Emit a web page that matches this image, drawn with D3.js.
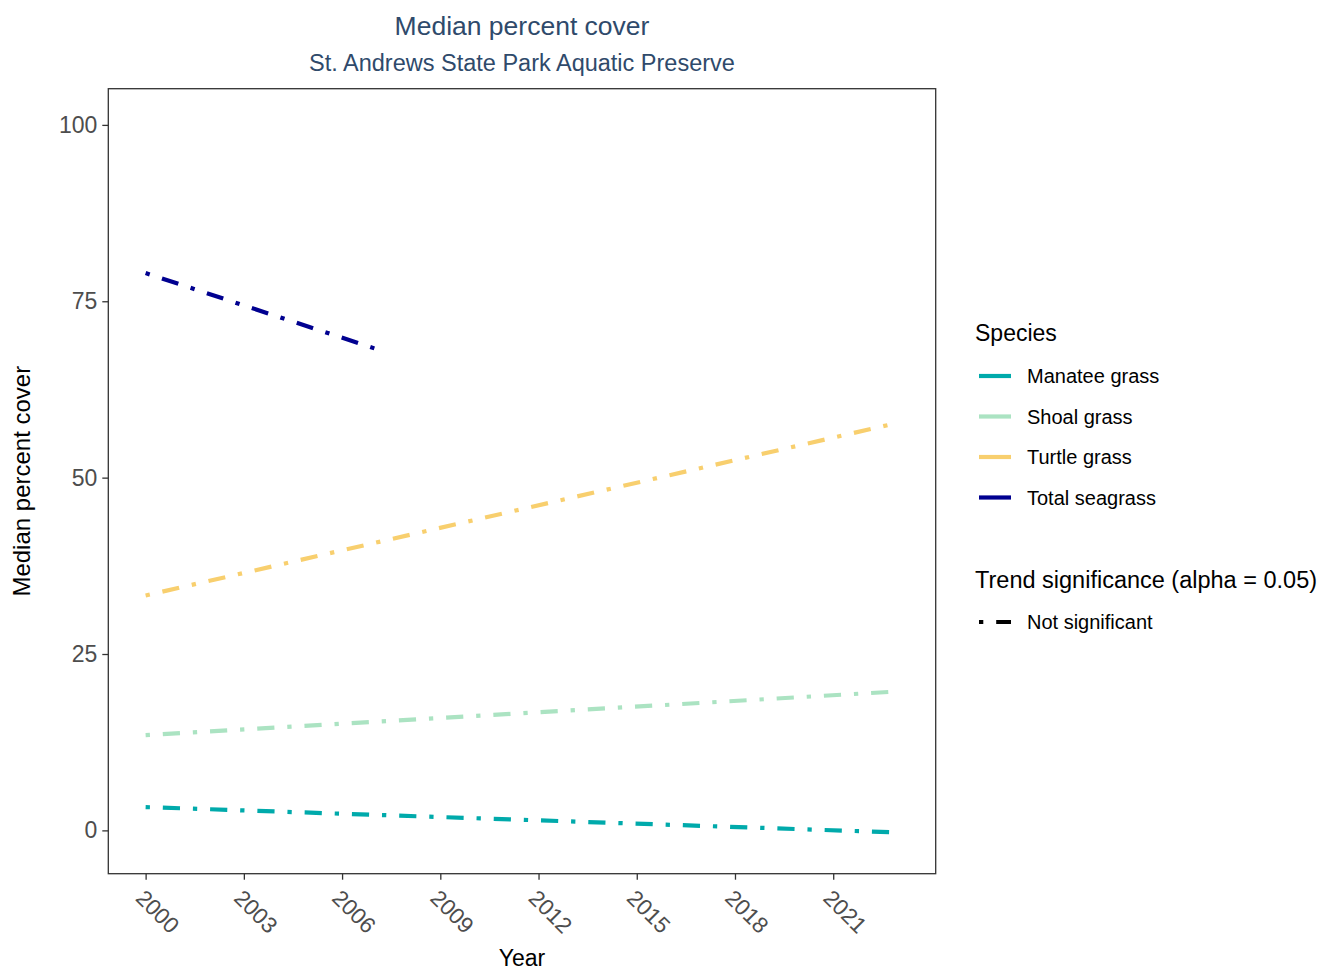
<!DOCTYPE html>
<html>
<head>
<meta charset="utf-8">
<script src="https://cdn.jsdelivr.net/npm/d3@7"></script>
<style>
  html, body { margin: 0; padding: 0; background: #ffffff; }
  svg { display: block; font-family: "Liberation Sans", Arial, sans-serif; }
</style>
</head>
<body>
<svg id="chart" width="1320" height="971"></svg>
<script>
// Seagrass trend lines: species, colours and the start/end of each fitted trend
const species = ["Manatee grass", "Shoal grass", "Turtle grass", "Total seagrass"];
const speciesColors = ["#00aaab", "#abe3c2", "#f8cf6e", "#000090"];
const trendYears = [[2000, 2023], [2000, 2023], [2000, 2023], [2000, 2007]];
const trendValues = [[3.3, -0.3], [13.5, 19.7], [33.3, 57.8], [79.0, 68.3]];
const significance = ["Not significant"];

const xTicks = [2000, 2003, 2006, 2009, 2012, 2015, 2018, 2021];
const yTicks = [0, 25, 50, 75, 100];

const titleText = "Median percent cover";
const subtitleText = "St. Andrews State Park Aquatic Preserve";

const svg = d3.select("#chart");

const panel = { left: 108.3, top: 88.7, right: 935.7, bottom: 873.7 };

const x = d3.scaleLinear().domain([1998.86, 2024.13]).range([panel.left, panel.right]);
const y = d3.scaleLinear().domain([-6.14, 105.13]).range([panel.bottom, panel.top]);

const lineW = 4.2;
const dashUnit = 4.3;
const dotdash = [dashUnit * 1, dashUnit * 3, dashUnit * 4, dashUnit * 3].join(",");

// Title and subtitle
const titleColor = "#2f4a6b";
const cx = (panel.left + panel.right) / 2;
svg.append("text").attr("x", cx).attr("y", 35).attr("text-anchor", "middle")
  .attr("font-size", 26.5).attr("fill", titleColor).text(titleText);
svg.append("text").attr("x", cx).attr("y", 71).attr("text-anchor", "middle")
  .attr("font-size", 23.5).attr("fill", titleColor).text(subtitleText);

// Trend lines
const line = d3.line().x(d => x(d[0])).y(d => y(d[1]));
const plot = svg.append("g");
species.forEach((s, i) => {
  const pts = trendYears[i].map((yr, j) => [yr, trendValues[i][j]]);
  plot.append("path")
    .attr("d", line(pts))
    .attr("fill", "none")
    .attr("stroke", speciesColors[i])
    .attr("stroke-width", lineW)
    .attr("stroke-dasharray", dotdash);
});

// Panel border
svg.append("rect")
  .attr("x", panel.left).attr("y", panel.top)
  .attr("width", panel.right - panel.left).attr("height", panel.bottom - panel.top)
  .attr("fill", "none").attr("stroke", "#333333").attr("stroke-width", 1.3);

// Y axis
const yAxis = svg.append("g").attr("transform", `translate(${panel.left},0)`)
  .call(d3.axisLeft(y).tickValues(yTicks).tickSize(6).tickPadding(5).tickFormat(d3.format("d")));
yAxis.select(".domain").remove();
yAxis.selectAll(".tick line").attr("stroke", "#333333").attr("stroke-width", 1.3);
yAxis.selectAll(".tick text").attr("fill", "#4d4d4d").attr("font-size", 23)
  .attr("font-family", "Liberation Sans, Arial, sans-serif");

// X axis
const xAxis = svg.append("g").attr("transform", `translate(0,${panel.bottom})`)
  .call(d3.axisBottom(x).tickValues(xTicks).tickSize(6).tickFormat(d3.format("d")));
xAxis.select(".domain").remove();
xAxis.selectAll(".tick line").attr("stroke", "#333333").attr("stroke-width", 1.3);
xAxis.selectAll(".tick text")
  .attr("fill", "#4d4d4d").attr("font-size", 22.5)
  .attr("font-family", "Liberation Sans, Arial, sans-serif")
  .attr("text-anchor", "start")
  .attr("y", 0).attr("dy", "0.8em")
  .attr("transform", "translate(1,13) rotate(45)");

// Axis titles
svg.append("text").attr("x", cx).attr("y", 966).attr("text-anchor", "middle")
  .attr("font-size", 23).attr("fill", "#000").text("Year");
svg.append("text").attr("transform", `translate(30,${(panel.top + panel.bottom) / 2}) rotate(-90)`)
  .attr("text-anchor", "middle").attr("font-size", 24).attr("fill", "#000").text("Median percent cover");

// Legend: species colours
const legX = 975;
const legend = svg.append("g");
legend.append("text").attr("x", legX).attr("y", 341).attr("font-size", 23).attr("fill", "#000").text("Species");
const keyY = [376, 416.5, 457, 497.5];
species.forEach((s, i) => {
  legend.append("line").attr("x1", 979).attr("x2", 1011).attr("y1", keyY[i]).attr("y2", keyY[i])
    .attr("stroke", speciesColors[i]).attr("stroke-width", lineW);
  legend.append("text").attr("x", 1027).attr("y", keyY[i]).attr("dy", "0.35em")
    .attr("font-size", 20).attr("fill", "#000").text(s);
});

// Legend: trend significance line type
legend.append("text").attr("x", legX).attr("y", 588).attr("font-size", 23.5).attr("fill", "#000")
  .text("Trend significance (alpha = 0.05)");
significance.forEach((s, i) => {
  const ky = 622 + i * 40;
  legend.append("line").attr("x1", 979).attr("x2", 1011).attr("y1", ky).attr("y2", ky)
    .attr("stroke", "#000").attr("stroke-width", lineW).attr("stroke-dasharray", dotdash);
  legend.append("text").attr("x", 1027).attr("y", ky).attr("dy", "0.35em")
    .attr("font-size", 20).attr("fill", "#000").text(s);
});
</script>
</body>
</html>
